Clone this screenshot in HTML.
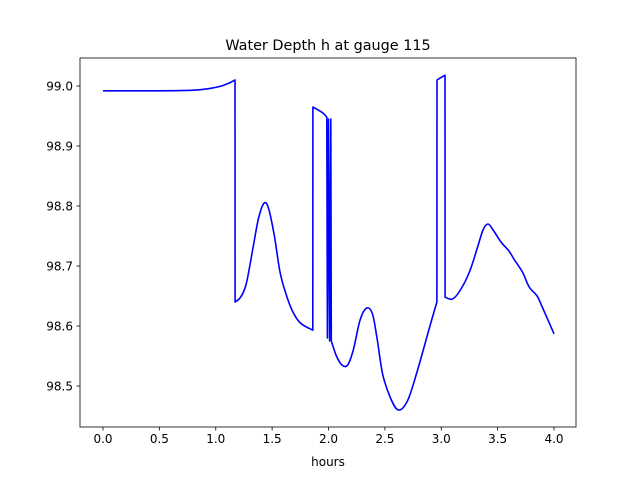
<!DOCTYPE html>
<html><head><meta charset="utf-8"><style>
body{margin:0;background:#fff;}
svg text{font-family:"DejaVu Sans","Liberation Sans",sans-serif;}
</style></head><body>
<svg id="chart" width="640" height="480" xmlns="http://www.w3.org/2000/svg">
<rect width="640" height="480" fill="#fff"/>
<text x="328" y="50" font-size="14.4" text-anchor="middle">Water Depth h at gauge 115</text>
<g id="ticks"></g>
<path id="line" fill="none" stroke="#0000ff" stroke-width="1.6" stroke-linejoin="round"/>
<rect x="80" y="58" width="496" height="369" fill="none" stroke="#000" stroke-width="0.8"/>
<text x="328" y="466" font-size="12" text-anchor="middle">hours</text>
</svg>
<script>
const hours=[0,0.5,0.8,0.95,1.05,1.12,1.171,1.172,1.22,1.27,1.33,1.38,1.43,1.47,1.52,1.57,1.62,1.68,1.75,1.861,1.862,1.95,1.985,1.99,2.0,2.01,2.02,2.025,2.07,2.12,2.17,2.22,2.28,2.34,2.39,2.43,2.48,2.55,2.62,2.70,2.78,2.87,2.93,2.961,2.962,3.033,3.034,3.1,3.17,3.25,3.32,3.37,3.415,3.46,3.53,3.6,3.65,3.72,3.78,3.85,3.9,4.0];
const depth=[98.992,98.992,98.993,98.996,99.0,99.005,99.010,98.64,98.648,98.67,98.73,98.78,98.805,98.795,98.75,98.69,98.655,98.625,98.605,98.593,98.965,98.955,98.948,98.58,98.945,98.575,98.945,98.575,98.55,98.535,98.535,98.56,98.61,98.63,98.62,98.58,98.52,98.48,98.46,98.475,98.52,98.58,98.62,98.64,99.01,99.018,98.648,98.645,98.66,98.69,98.73,98.76,98.77,98.76,98.74,98.725,98.71,98.69,98.665,98.65,98.63,98.587];
const xTicks=[0,0.5,1.0,1.5,2.0,2.5,3.0,3.5,4.0];
const yTicks=[98.5,98.6,98.7,98.8,98.9,99.0];
const X=v=>103+v*112.75;
const Y=v=>86+(99.0-v)*600;
const P=hours.map((h,i)=>[X(h),Y(depth[i])]);
let d='M'+P[0][0].toFixed(1)+' '+P[0][1].toFixed(1);
for(let i=1;i<P.length;i++){
  const a=P[i-1],b=P[i];
  if(b[0]-a[0]<3){d+='L'+b[0].toFixed(1)+' '+b[1].toFixed(1);continue;}
  const p0=(i>=2&&a[0]-P[i-2][0]>=3)?P[i-2]:a;
  const p3=(i+1<P.length&&P[i+1][0]-b[0]>=3)?P[i+1]:b;
  const c1=[a[0]+(b[0]-p0[0])/6,a[1]+(b[1]-p0[1])/6];
  const c2=[b[0]-(p3[0]-a[0])/6,b[1]-(p3[1]-a[1])/6];
  d+='C'+c1.map(v=>v.toFixed(1)).join(' ')+' '+c2.map(v=>v.toFixed(1)).join(' ')+' '+b[0].toFixed(1)+' '+b[1].toFixed(1);
}
document.getElementById('line').setAttribute('d',d);
const g=document.getElementById('ticks');const NS='http://www.w3.org/2000/svg';
xTicks.forEach(t=>{const l=document.createElementNS(NS,'line');


l.setAttribute('x1',X(t));l.setAttribute('x2',X(t));l.setAttribute('y1',427);l.setAttribute('y2',430.5);l.setAttribute('stroke','#000');l.setAttribute('stroke-width','0.8');g.appendChild(l);
const s=document.createElementNS(NS,'text');


s.setAttribute('x',X(t));s.setAttribute('y',443);s.setAttribute('font-size','12');s.setAttribute('text-anchor','middle');s.textContent=t.toFixed(1);g.appendChild(s);});
yTicks.forEach(t=>{const l=document.createElementNS(NS,'line');


l.setAttribute('x1',76.5);l.setAttribute('x2',80);l.setAttribute('y1',Y(t));l.setAttribute('y2',Y(t));l.setAttribute('stroke','#000');l.setAttribute('stroke-width','0.8');g.appendChild(l);
const s=document.createElementNS(NS,'text');


s.setAttribute('x',73);s.setAttribute('y',Y(t)+4.5);s.setAttribute('font-size','12');s.setAttribute('text-anchor','end');s.textContent=t.toFixed(1);g.appendChild(s);});
</script>
</body></html>
